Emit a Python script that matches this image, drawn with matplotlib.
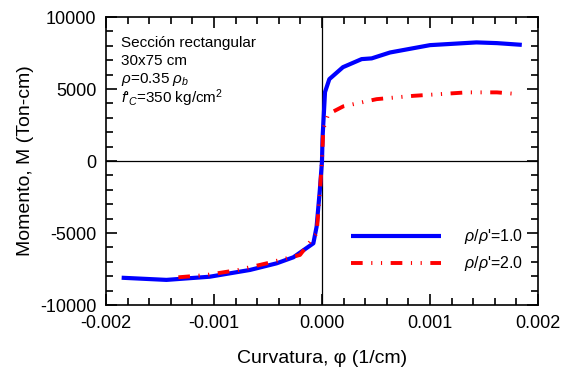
import matplotlib
matplotlib.use('Agg')
import matplotlib.pyplot as plt
from matplotlib.ticker import MultipleLocator

plt.rcParams['font.family'] = ['Liberation Sans', 'DejaVu Sans']
plt.rcParams['mathtext.fontset'] = 'custom'
plt.rcParams['mathtext.rm'] = 'Liberation Sans'
plt.rcParams['mathtext.it'] = 'Liberation Sans:italic'
plt.rcParams['axes.unicode_minus'] = False

# rho/rho' = 1.0
curv_1 = [-0.001855, -0.00144, -0.00104, -0.000667, -0.00042, -0.000265, -0.00008,
          -0.00005, -0.00002, 0.0, 0.000005, 0.000028, 0.000068, 0.000194, 0.000367,
          0.00046, 0.00063, 0.001, 0.00143, 0.00162, 0.00185]
mom_1 = [-8100, -8250, -8030, -7560, -7100, -6680, -5710,
         -4560, -2010, 0, 1600, 4790, 5690, 6520, 7080,
         7130, 7540, 8050, 8240, 8190, 8070]

# rho/rho' = 2.0
curv_2 = [-0.00133, -0.00107, -0.000775, -0.000512, -0.000204, -0.00005, -0.000025,
          0.0, 0.000012, 0.000058, 0.000197, 0.000506, 0.000846, 0.00134, 0.00162, 0.00182]
mom_2 = [-8070, -7910, -7560, -7100, -6520, -5020, -2700,
         0, 2220, 3260, 3800, 4300, 4530, 4770, 4770, 4650]

fig = plt.figure(figsize=(5.65, 3.79), dpi=100)
ax = fig.add_axes([0.1876, 0.195, 0.7646, 0.76])

ax.axhline(0, color='black', lw=0.9)
ax.axvline(0, color='black', lw=0.9)

ax.plot(curv_1, mom_1, color='#0000ff', lw=3, label=r"$\rho/\rho$'=1.0", solid_capstyle='butt')
ax.plot(curv_2, mom_2, color='#ff0000', lw=2.8, dashes=(3, 2.2, 0.3, 2.2, 0.3, 2.2),
        label=r"$\rho/\rho$'=2.0")

ax.set_xlim(-0.002, 0.002)
ax.set_ylim(-10000, 10000)
ax.xaxis.set_major_locator(MultipleLocator(0.001))
ax.xaxis.set_minor_locator(MultipleLocator(0.0002))
ax.yaxis.set_major_locator(MultipleLocator(5000))
ax.yaxis.set_minor_locator(MultipleLocator(1000))
ax.xaxis.set_major_formatter(plt.FuncFormatter(lambda v, p: f'{v:.3f}'))
ax.tick_params(which='both', direction='in', top=True, right=True, labelsize=13, width=1.2)
ax.tick_params(which='major', length=8, pad=7)
ax.tick_params(which='minor', length=5)
for s in ax.spines.values():
    s.set_linewidth(1.2)

ax.set_xlabel(u'Curvatura, \u03c6 (1/cm)', fontsize=14, labelpad=13)
ax.set_ylabel('Momento, M (Ton-cm)', fontsize=14, labelpad=4)

ax.text(0.035, 0.895, u'Secci\u00f3n rectangular', transform=ax.transAxes, fontsize=11)
ax.text(0.035, 0.835, '30x75 cm', transform=ax.transAxes, fontsize=11)
ax.text(0.035, 0.77, r'$\rho$=0.35 $\rho_b$', transform=ax.transAxes, fontsize=11)
ax.text(0.035, 0.70, r"$f$'$_C$=350 kg/cm$^2$", transform=ax.transAxes, fontsize=11)

ax.legend(loc='lower right', frameon=False, fontsize=11.5, handlelength=5.6,
          handletextpad=1.5, labelspacing=0.5, bbox_to_anchor=(1.0, 0.06))

fig.savefig('out.png', dpi=100)
